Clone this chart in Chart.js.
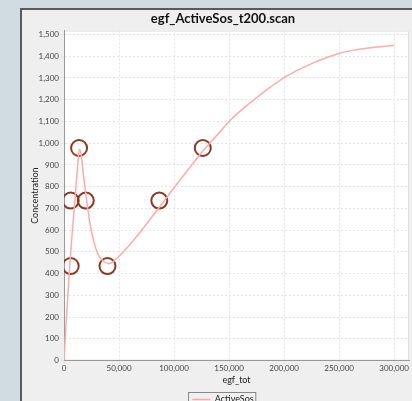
<!DOCTYPE html>
<html>
<head>
<meta charset="utf-8">
<script src="https://cdn.jsdelivr.net/npm/chart.js@4/dist/chart.umd.min.js"></script>
<style>
  html, body { margin: 0; padding: 0; background: #d0dce2; overflow: hidden; }
  #panel {
    position: absolute; left: 20px; top: 8px; width: 400px; height: 410px;
    background: #efefef; border-left: 2px solid #5a5a5a; border-top: 2px solid #5a5a5a;
  }
  #chart { position: absolute; left: 0; top: 0; }
</style>
</head>
<body>
<div id="panel"><canvas id="chart" width="397" height="404"></canvas></div>
<script>
// simulated curve (egf_tot vs ActiveSos)
var curveX = [0, 2500, 5000, 7500, 10000, 12500, 14000, 15500, 17500, 20000, 23000, 26000, 30000, 35000, 41000, 50000, 62000, 75000, 87000, 100000, 113000, 126000, 141000, 150000, 162500, 175000, 187500, 200000, 212500, 225000, 237500, 250000, 262500, 275000, 287500, 300000];
var curveY = [0, 220, 420, 590, 740, 900, 972, 950, 860, 760, 650, 570, 500, 460, 446, 480, 546, 628, 708, 795, 880, 963, 1048, 1100, 1158, 1210, 1258, 1302, 1336, 1366, 1392, 1413, 1427, 1437, 1444, 1450];

// highlighted data points
var markX = [6100, 6100, 13700, 19800, 39500, 86600, 126100];
var markY = [435, 736, 978, 736, 435, 736, 978];

var xTicks = [0, 50000, 100000, 150000, 200000, 250000, 300000];
var yTicks = [0, 100, 200, 300, 400, 500, 600, 700, 800, 900, 1000, 1100, 1200, 1300, 1400, 1500];

var curvePts = curveX.map((x, i) => ({x: x, y: curveY[i]}));
var markPts = markX.map((x, i) => ({x: x, y: markY[i]}));

var legendBox = {
  id: 'legendBox',
  afterDraw(chart) {
    var lg = chart.legend;
    if (!lg || !lg.legendHitBoxes.length) return;
    var b = lg.legendHitBoxes[0];
    var ctx = chart.ctx;
    ctx.save();
    ctx.strokeStyle = '#888';
    ctx.lineWidth = 1;
    ctx.strokeRect(Math.round(b.left) - 3.5, Math.round(b.top) - 2.5, b.width + 6, b.height + 5);
    ctx.restore();
  }
};

var plotBg = {
  id: 'plotBg',
  beforeDraw(chart) {
    var a = chart.chartArea, ctx = chart.ctx;
    ctx.save();
    ctx.fillStyle = '#ffffff';
    ctx.fillRect(a.left, a.top, a.right - a.left, a.bottom - a.top);
    ctx.strokeStyle = '#e0e0e0';
    ctx.strokeRect(a.left + 0.5, a.top + 0.5, a.right - a.left - 1, a.bottom - a.top - 1);
    ctx.restore();
  }
};

new Chart("chart", {
  type: "scatter",
  data: {
    datasets: [{
      label: 'ActiveSos',
      data: curvePts,
      showLine: true,
      borderColor: '#ffaaaa',
      backgroundColor: '#ffaaaa',
      borderWidth: 1.5,
      pointRadius: 0,
      cubicInterpolationMode: 'monotone'
    }, {
      label: 'marks',
      data: markPts,
      showLine: false,
      pointRadius: 8,
      pointBorderWidth: 2,
      borderColor: '#8b3a22',
      backgroundColor: 'rgba(0,0,0,0)'
    }]
  },
  plugins: [plotBg, legendBox],
  options: {
    responsive: false,
    animation: false,
    layout: { padding: { top: 0, right: 3, left: 8, bottom: 0 } },
    plugins: {
      title: {
        display: true,
        text: 'egf_ActiveSos_t200.scan',
        color: '#111',
        font: { family: 'Lato', size: 13, weight: 'bold' },
        padding: { top: 1, bottom: 4 }
      },
      legend: {
        position: 'bottom',
        labels: {
          filter: item => item.text === 'ActiveSos',
          usePointStyle: true,
          pointStyle: 'line',
          pointStyleWidth: 18,
          color: '#222',
          font: { family: 'Lato', size: 9 },
          padding: 10
        }
      },
      tooltip: { enabled: false }
    },
    scales: {
      x: {
        type: 'linear',
        min: 0,
        max: 313500,
        afterBuildTicks: s => { s.ticks = xTicks.map(v => ({value: v})); },
        ticks: { color: '#444', font: { family: 'Lato', size: 8 }, padding: 0, maxRotation: 0 },
        grid: { color: '#e4e4e4', tickLength: 3 },
        border: { color: '#999', dash: [2, 2] },
        title: { display: true, text: 'egf_tot', color: '#222', font: { family: 'Lato', size: 9 }, padding: { top: 1, bottom: 0 } }
      },
      y: {
        min: 0,
        max: 1518,
        afterBuildTicks: s => { s.ticks = yTicks.map(v => ({value: v})); },
        afterFit: s => { s.width = 34; },
        ticks: { color: '#444', font: { family: 'Lato', size: 8 }, padding: 2 },
        grid: { color: '#e4e4e4', tickLength: 3 },
        border: { color: '#999', dash: [2, 2] },
        title: { display: true, text: 'Concentration', color: '#222', font: { family: 'Lato', size: 9 }, padding: { top: 0, bottom: 0 } }
      }
    }
  }
});
</script>
</body>
</html>
